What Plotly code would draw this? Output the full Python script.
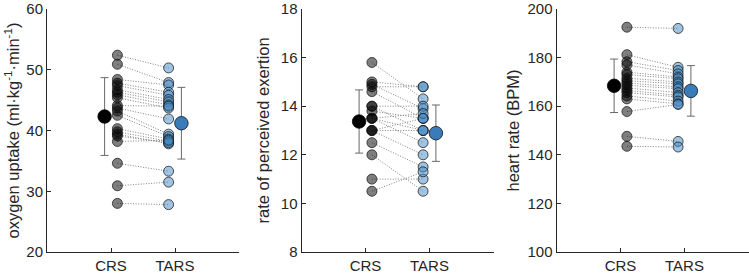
import plotly.graph_objects as go

# ---------------- data ----------------
groups = ["CRS", "TARS"]

vo2_crs = [52.4, 50.9, 48.4, 47.8, 47.4, 46.7, 46.3, 45.9, 45.4, 44.1, 43.7,
           43.2, 42.5, 40.3, 39.8, 39.4, 39.1, 38.2, 34.6, 30.9, 28.0]
vo2_tars = [50.3, 47.9, 47.5, 46.3, 45.8, 45.1, 44.7, 44.2, 43.7, 44.0, 41.9,
            39.4, 39.0, 38.6, 38.2, 37.8, 38.0, 38.4, 33.3, 31.5, 27.8]
vo2_mean = [42.3, 41.2]
vo2_sd = [6.4, 5.9]

rpe_crs = [15.8, 15.0, 14.9, 14.8, 14.6, 14.0, 14.0, 13.8, 13.5, 13.5, 13.5,
           13.0, 13.0, 13.0, 12.5, 12.0, 11.0, 10.5]
rpe_tars = [14.3, 14.8, 13.9, 14.8, 13.5, 14.0, 13.0, 13.5, 13.7, 12.5, 13.0,
            13.5, 12.0, 13.0, 11.5, 10.5, 11.0, 11.3]
rpe_mean = [13.37, 12.89]
rpe_sd = [1.30, 1.16]

hr_crs = [192.5, 181.2, 178.3, 177.0, 174.0, 173.0, 171.5, 170.5, 169.5, 168.6,
          167.5, 166.5, 165.6, 164.2, 163.0, 157.8, 147.6, 143.5]
hr_tars = [192.0, 176.0, 174.7, 173.3, 172.0, 171.3, 170.0, 169.2, 168.0, 167.2,
           165.6, 164.5, 163.8, 162.1, 161.0, 160.7, 145.5, 143.2]
hr_mean = [168.4, 166.3]
hr_sd = [11.0, 10.4]

panels = [
    dict(crs=vo2_crs, tars=vo2_tars, mean=vo2_mean, sd=vo2_sd,
         yrange=[20, 60], ytick=[20, 30, 40, 50, 60],
         title="oxygen uptake (ml·kg<sup>-1</sup>·min<sup>-1</sup>)"),
    dict(crs=rpe_crs, tars=rpe_tars, mean=rpe_mean, sd=rpe_sd,
         yrange=[8, 18], ytick=[8, 10, 12, 14, 16, 18],
         title="rate of perceived exertion"),
    dict(crs=hr_crs, tars=hr_tars, mean=hr_mean, sd=hr_sd,
         yrange=[100, 200], ytick=[100, 120, 140, 160, 180, 200],
         title="heart rate (BPM)"),
]

# ---------------- layout geometry ----------------
W, H = 749, 275
x_left_px = [47, 301.5, 556.5]
panel_w_px = 192
title_x_px = [12, 262, 512]

FONT = "Liberation Sans, Arial, sans-serif"
AX = "#262626"
CRS_IND = "rgba(0,0,0,0.5)"
TARS_IND = "rgba(65,135,195,0.5)"
TARS_MEAN = "rgb(58,124,186)"

fig = go.Figure()
layout = dict(
    width=W, height=H,
    margin=dict(l=0, r=0, t=6, b=23),
    paper_bgcolor="white", plot_bgcolor="white",
    showlegend=False,
    font=dict(family=FONT, size=15, color=AX),
    annotations=[],
)

for i, p in enumerate(panels):
    sfx = "" if i == 0 else str(i + 1)
    xa, ya = "x" + sfx, "y" + sfx
    n = len(p["crs"])
    # connecting dotted lines
    lx, ly = [], []
    for a, b in zip(p["crs"], p["tars"]):
        lx += [1.1, 1.9, None]
        ly += [a, b, None]
    fig.add_trace(go.Scatter(x=lx, y=ly, mode="lines", xaxis=xa, yaxis=ya,
                             line=dict(color="rgb(130,130,130)", width=1, dash="1px,1.6px"),
                             hoverinfo="skip"))
    fig.add_trace(go.Scatter(x=[1.1] * n, y=p["crs"], mode="markers", xaxis=xa, yaxis=ya,
                             marker=dict(size=10, color=CRS_IND,
                                         line=dict(color="rgba(20,20,20,0.9)", width=0.8))))
    fig.add_trace(go.Scatter(x=[1.9] * len(p["tars"]), y=p["tars"], mode="markers",
                             xaxis=xa, yaxis=ya,
                             marker=dict(size=10, color=TARS_IND,
                                         line=dict(color="rgba(20,20,20,0.9)", width=0.8))))
    # means with SD error bars
    fig.add_trace(go.Scatter(x=[0.9], y=[p["mean"][0]], mode="markers", xaxis=xa, yaxis=ya,
                             error_y=dict(type="data", array=[p["sd"][0]], color="rgb(105,105,105)",
                                          thickness=1, width=4),
                             marker=dict(size=13.5, color="black",
                                         line=dict(color="black", width=0.8))))
    fig.add_trace(go.Scatter(x=[2.1], y=[p["mean"][1]], mode="markers", xaxis=xa, yaxis=ya,
                             error_y=dict(type="data", array=[p["sd"][1]], color="rgb(105,105,105)",
                                          thickness=1, width=4),
                             marker=dict(size=13.5, color=TARS_MEAN,
                                         line=dict(color="rgb(20,20,20)", width=0.8))))

    x0 = x_left_px[i] / W
    x1 = (x_left_px[i] + panel_w_px) / W
    layout["xaxis" + sfx] = dict(
        domain=[x0, x1], range=[0, 3], anchor=ya,
        tickmode="array", tickvals=[1, 2], ticktext=groups,
        ticks="inside", ticklen=4, tickwidth=1, tickcolor=AX,
        showline=True, linecolor=AX, linewidth=1,
        showgrid=False, zeroline=False, fixedrange=True,
        ticklabeloverflow="allow",
        tickfont=dict(family=FONT, size=15, color=AX),
    )
    layout["yaxis" + sfx] = dict(
        domain=[0, 1], range=p["yrange"], anchor=xa,
        tickmode="array", tickvals=p["ytick"],
        ticks="inside", ticklen=4, tickwidth=1, tickcolor=AX,
        showline=True, linecolor=AX, linewidth=1,
        showgrid=False, zeroline=False, fixedrange=True,
        ticklabeloverflow="allow",
        tickfont=dict(family=FONT, size=15, color=AX),
    )
    layout["annotations"].append(dict(
        text=p["title"], xref="paper", yref="paper",
        x=title_x_px[i] / W, y=0.5, xanchor="center", yanchor="middle",
        textangle=-90, showarrow=False,
        font=dict(family=FONT, size=16.5, color=AX),
    ))

fig.update_layout(**layout)
fig.write_html("out.html",
               config={"displayModeBar": False},
               post_script="document.body.style.margin='0';document.body.style.padding='0';")
